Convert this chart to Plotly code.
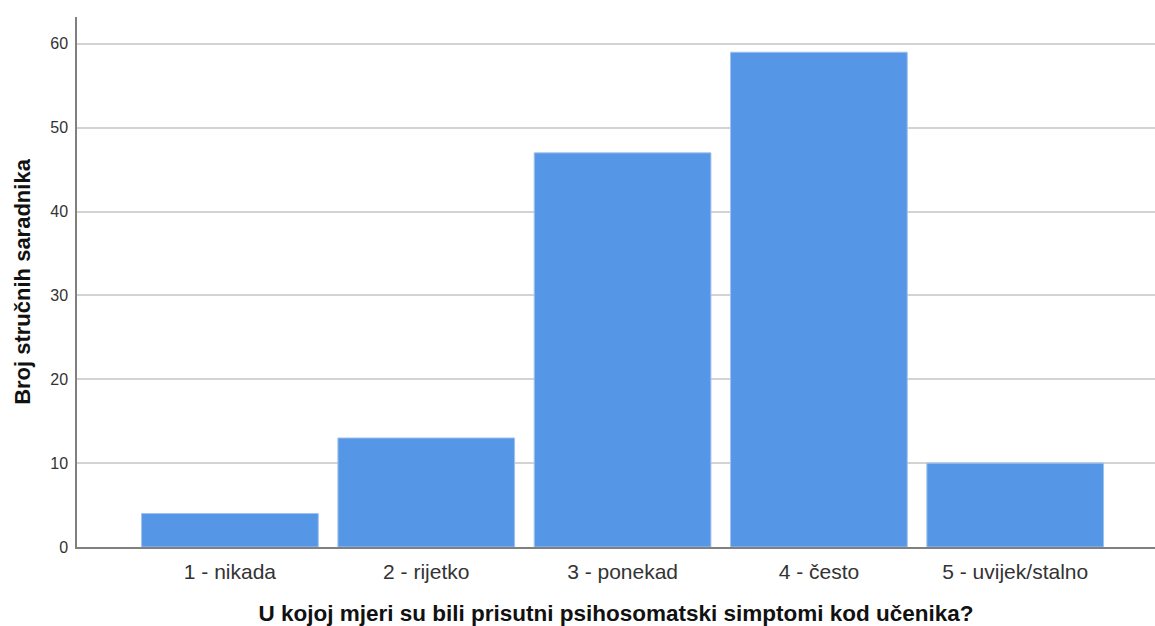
import plotly.graph_objects as go

# Response categories and counts
categories = ["1 - nikada", "2 - rijetko", "3 - ponekad", "4 - često", "5 - uvijek/stalno"]
counts = [4, 13, 47, 59, 10]
y_ticks = [0, 10, 20, 30, 40, 50, 60]

FONT = "Liberation Sans, Arial, sans-serif"

fig = go.Figure(
    go.Bar(
        x=list(range(len(categories))),
        y=counts,
        marker=dict(color="#5596E6", line=dict(color="#9fc2ee", width=1)),
        hoverinfo="skip",
    )
)

fig.update_layout(
    width=1155,
    height=626,
    margin=dict(l=77, r=0, t=17, b=79),
    paper_bgcolor="white",
    plot_bgcolor="white",
    bargap=0.1,
    showlegend=False,
    font=dict(family=FONT, color="#222"),
)

fig.update_xaxes(
    tickmode="array",
    tickvals=list(range(len(categories))),
    ticktext=categories,
    range=[-0.779, 4.712],
    showgrid=False,
    showline=True,
    linecolor="#808080",
    linewidth=1.5,
    ticks="",
    tickfont=dict(size=21, color="#333"),
    ticklabelstandoff=5,
    title=dict(
        text="<b>U kojoj mjeri su bili prisutni psihosomatski simptomi kod učenika?</b>",
        font=dict(size=22.5, color="#111"),
        standoff=24,
    ),
)

fig.update_yaxes(
    range=[0, 63.2],
    tickmode="array",
    tickvals=y_ticks,
    showgrid=True,
    gridcolor="#d3d3d3",
    gridwidth=1.5,
    showline=True,
    linecolor="#808080",
    linewidth=1.5,
    ticks="",
    zeroline=False,
    tickfont=dict(size=16, color="#333"),
    ticklabelstandoff=4,
    title=dict(
        text="<b>Broj stručnih saradnika</b>",
        font=dict(size=22, color="#111"),
        standoff=14,
    ),
)

fig.write_html("out.html")
